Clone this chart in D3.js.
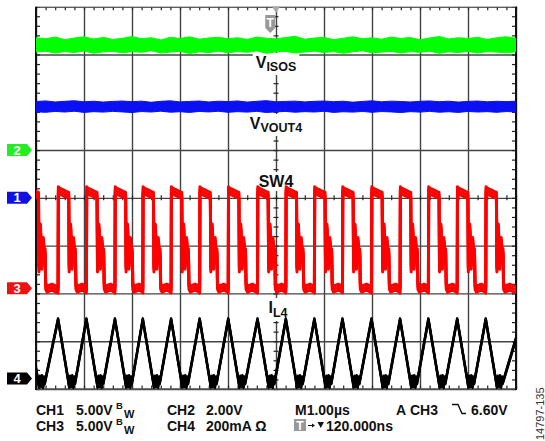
<!DOCTYPE html>
<html><head><meta charset="utf-8">
<script src="https://cdn.jsdelivr.net/npm/d3@7"></script>
<style>
html,body{margin:0;padding:0;background:#fff;}
svg{display:block;}
text{font-family:"Liberation Sans",Arial,Helvetica,sans-serif;}
</style></head><body>
<svg id="c" width="545" height="441"></svg>
<script>
// ---------------- data ----------------
const timeDivs = [0,1,2,3,4,5,6,7,8,9,10];          // µs, M1.00µs per div
const vertDivs = [-4,-3,-2,-1,0,1,2,3,4];            // vertical divisions
const channelNames = ["CH1","CH2","CH3","CH4"];
const channelOffsetDiv = [0, 1, -1.89, -3.78];       // ground marker position (div)
const channelPerDiv = [5, 2, 5, 200];                // V/div, V/div, V/div, mA/div

const envTimes = [0,0.2,0.4,0.6,0.8,1.0,1.2,1.4,1.6,1.8,2.0,2.2,2.4,2.6,2.8,3.0,3.2,3.4,3.6,3.8,
  4.0,4.2,4.4,4.6,4.8,5.0,5.2,5.4,5.6,5.8,6.0,6.2,6.4,6.6,6.8,7.0,7.2,7.4,7.6,7.8,
  8.0,8.2,8.4,8.6,8.8,9.0,9.2,9.4,9.6,9.8,10.0];
// CH2 V_ISOS noise envelope (V)
const visosTop = [4.70,4.66,4.73,4.62,4.69,4.74,4.65,4.71,4.63,4.68,
  4.75,4.66,4.70,4.61,4.72,4.67,4.74,4.64,4.69,4.72,
  4.66,4.70,4.63,4.73,4.68,4.65,4.71,4.76,4.64,4.69,
  4.72,4.62,4.68,4.74,4.66,4.70,4.64,4.73,4.67,4.71,
  4.62,4.69,4.75,4.65,4.70,4.67,4.72,4.63,4.70,4.74,4.68];
const visosBottom = [4.10,4.14,4.06,4.12,4.08,4.15,4.05,4.11,4.13,4.07,
  4.12,4.09,4.16,4.06,4.10,4.13,4.04,4.11,4.08,4.14,
  4.07,4.12,4.09,4.15,4.05,4.11,4.13,4.06,4.10,4.14,
  4.08,4.12,4.05,4.11,4.16,4.07,4.10,4.13,4.06,4.12,
  4.09,4.14,4.05,4.11,4.08,4.13,4.06,4.12,4.10,4.07,4.11];
// CH1 V_VOUT4 noise envelope (V)
const vout4Top = [10.08,10.14,10.03,10.10,10.16,10.05,10.11,10.02,10.09,10.13,
  10.06,10.12,10.00,10.10,10.15,10.04,10.09,10.13,10.03,10.11,
  10.07,10.14,10.02,10.10,10.17,10.05,10.09,10.12,10.04,10.10,
  10.13,10.06,10.11,10.01,10.09,10.15,10.05,10.12,10.08,10.03,
  10.10,10.14,10.06,10.11,10.02,10.09,10.13,10.05,10.10,10.07,10.11];
const vout4Bottom = [9.00,8.95,9.04,8.98,9.06,8.94,9.02,8.97,9.05,8.99,
  8.93,9.03,8.98,9.07,8.96,9.01,8.94,9.04,8.99,9.06,
  8.95,9.02,8.97,9.05,8.93,9.00,9.04,8.96,9.02,8.98,
  9.06,8.94,9.01,8.97,9.04,8.95,9.03,8.99,8.93,9.02,
  8.97,9.05,8.96,9.01,8.94,9.04,8.98,9.02,8.95,9.03,8.99];
// CH3 SW4: rising-edge times (µs) and one switching cycle (dt µs, V)
const sw4Edges = [-0.17,0.46,1.05,1.645,2.225,2.815,3.41,4.005,4.615,5.205,5.80,6.385,6.99,7.585,8.175,8.775,9.37,10.12];
const sw4Cycle = [[0,-0.2],[0.006,10.3],[0.03,10.15],[0.10,10.0],[0.20,9.75],[0.222,9.7],[0.232,2.0],[0.262,6.4],[0.292,2.3],[0.322,5.0],[0.35,3.2],[0.36,3.8],[0.372,0.2],[0.40,-0.1],[0.50,0.1],[0.585,-0.1]];
// CH4 I_L4: one cycle relative to the SW4 rising edge (dt µs, mA)
const il4Cycle = [[0,248],[0.215,-12],[0.232,-35],[0.252,8],[0.272,-32],[0.295,10],[0.318,-36],[0.338,5],[0.352,-20]];

const footer1 = [["CH1",36],["5.00V",76],["CH2",167],["2.00V",206],["M1.00µs",295],["A",396],["CH3",410],["6.60V",471]];
const footer2 = [["CH3",36],["5.00V",76],["CH4",167],["200mA Ω",206],["120.000ns",326]];
const figureId = "14797-135";

// ---------------- drawing ----------------
const X0=36, X1=516, Y0=6.7, Y1=389;
const svg = d3.select("#c");
const x = d3.scaleLinear().domain([0,10]).range([X0,X1]);
const yd = d3.scaleLinear().domain([-4,4]).range([Y1,Y0]);
const ych = i => v => yd(channelOffsetDiv[i] + v/channelPerDiv[i]);
const minorX = d3.range(0,10.0001,0.2);
const minorY = d3.range(-4,4.0001,0.2);

function clean(g){ g.select(".domain").remove(); }

// grid lines
svg.append("g").attr("transform",`translate(0,${Y1})`)
  .call(d3.axisBottom(x).tickValues(timeDivs).tickSize(-(Y1-Y0)).tickFormat(""))
  .call(clean).selectAll("line").attr("stroke","#444").attr("stroke-width",1.4);
svg.append("g").attr("transform",`translate(${X0},0)`)
  .call(d3.axisLeft(yd).tickValues(vertDivs).tickSize(-(X1-X0)).tickFormat(""))
  .call(clean).selectAll("line").attr("stroke","#444").attr("stroke-width",1.4);

// minor ticks on borders
function minor(axis, tr, size){
  svg.append("g").attr("transform",tr)
    .call(axis.tickSize(size).tickFormat(""))
    .call(clean).selectAll("line").attr("stroke","#222").attr("stroke-width",1.2);
}
minor(d3.axisTop(x).tickValues(minorX), `translate(0,${Y0})`, -3.5);
minor(d3.axisBottom(x).tickValues(minorX), `translate(0,${Y1})`, -3.5);
minor(d3.axisLeft(yd).tickValues(minorY), `translate(${X0},0)`, -4);
minor(d3.axisRight(yd).tickValues(minorY), `translate(${X1},0)`, -4);
// centre cross ticks
minor(d3.axisBottom(x).tickValues(minorX), `translate(0,${yd(0)})`, 2.5);
minor(d3.axisTop(x).tickValues(minorX), `translate(0,${yd(0)})`, 2.5);
minor(d3.axisLeft(yd).tickValues(minorY), `translate(${x(5)},0)`, 2.5);
minor(d3.axisRight(yd).tickValues(minorY), `translate(${x(5)},0)`, 2.5);

// borders
svg.append("line").attr("x1",X0).attr("x2",X1).attr("y1",Y0).attr("y2",Y0).attr("stroke","#ccc").attr("stroke-width",1);
svg.append("line").attr("x1",X0).attr("x2",X1).attr("y1",Y1).attr("y2",Y1).attr("stroke","#555").attr("stroke-width",1.6);
svg.append("line").attr("x1",X0).attr("x2",X0).attr("y1",Y0).attr("y2",Y1+1).attr("stroke","#111").attr("stroke-width",2);
svg.append("line").attr("x1",X1).attr("x2",X1).attr("y1",Y0).attr("y2",Y1+1).attr("stroke","#111").attr("stroke-width",2);

// labels with white boxes
const labelG = svg.append("g");
function label(cx, by, main, sub, subDy, mainSize, subSize){
  const t = labelG.append("text").attr("x",cx).attr("y",by).attr("text-anchor","middle")
    .attr("font-weight","bold").attr("fill","#111");
  t.append("tspan").attr("font-size",mainSize).text(main);
  if (sub) t.append("tspan").attr("font-size",subSize).attr("dy",subDy).text(sub);
  const b = t.node().getBBox();
  labelG.insert("rect","text").attr("x",b.x-3).attr("y",b.y-1).attr("width",b.width+6).attr("height",b.height+2).attr("fill","#fff");
}
label(276, 68, "V", "ISOS", 3, 16, 12.5);
label(276, 129, "V", "VOUT4", 3, 16, 12.5);
label(276, 187, "SW4", null, 0, 16, 12.5);
label(278, 313, "I", "L4", 4, 16, 12.5);

// traces
svg.append("defs").append("clipPath").attr("id","plot").append("rect")
  .attr("x",X0).attr("y",0).attr("width",X1-X0).attr("height",Y1+2);
const tr = svg.append("g").attr("clip-path","url(#plot)");

function band(top, bot, ch, color){
  const y = ych(ch);
  const area = d3.area().x((d,i)=>x(envTimes[i])).y0((d,i)=>y(bot[i])).y1((d,i)=>y(top[i]));
  tr.append("path").datum(top).attr("d",area).attr("fill",color).attr("stroke",color).attr("stroke-width",1);
}
band(visosTop, visosBottom, 1, "#00ff00");
band(vout4Top, vout4Bottom, 0, "#0a10f2");

function periodic(cycle){
  const pts = [];
  sw4Edges.forEach(e => cycle.forEach(([dt,v]) => pts.push([e+dt, v])));
  return pts;
}
const swPts = periodic(sw4Cycle);
const ySW = ych(2);
const swLine = d3.line().x(d=>x(d[0])).y(d=>ySW(d[1]));
[-3,0,3].forEach(dy => tr.append("path").datum(swPts).attr("d",swLine)
  .attr("transform",`translate(0,${dy})`).attr("fill","none").attr("stroke","#ff0000")
  .attr("stroke-width",3).attr("stroke-linejoin","round"));

const ilPts = periodic(il4Cycle);
const yIL = ych(3);
const ilLine = d3.line().x(d=>x(d[0])).y(d=>yIL(d[1]));
[-0.9,0,0.9].forEach(dy => tr.append("path").datum(ilPts).attr("d",ilLine)
  .attr("transform",`translate(0,${dy})`).attr("fill","none").attr("stroke","#000")
  .attr("stroke-width",2.4).attr("stroke-linejoin","round"));

// channel ground markers
const markerColors = ["#1010e6","#22ee22","#ee1111","#000000"];
channelNames.forEach((n,i)=>{
  const cy = yd(channelOffsetDiv[i]);
  svg.append("path").attr("d",`M7,${cy-6}H27L32,${cy}L27,${cy+6}H7Z`).attr("fill",markerColors[i]);
  svg.append("text").attr("x",17).attr("y",cy+4.5).attr("text-anchor","middle")
    .attr("font-size",13).attr("font-weight","bold").attr("fill","#fff").text(n.slice(2));
});

// trigger markers
const tx = x(5) - 0.12*48; // 120 ns left of centre
svg.append("path").attr("d",`M${x(5)-3.8},${Y0}H${x(5)+3.8}L${x(5)},${Y0+6.6}Z`).attr("fill","#aaa");
svg.append("path").attr("d",`M${tx-5},15H${tx+5}V28L${tx},33L${tx-5},28Z`).attr("fill","#999");
svg.append("text").attr("x",tx).attr("y",27).attr("text-anchor","middle").attr("font-size",12)
  .attr("font-weight","bold").attr("fill","#fff").text("T");

// footer
function ftxt(s, xx, yy, size){
  svg.append("text").attr("x",xx).attr("y",yy).attr("font-size",size||14).attr("font-weight","bold").attr("fill","#111").text(s);
}
footer1.forEach(([s,xx])=>ftxt(s,xx,415));
footer2.forEach(([s,xx])=>ftxt(s,xx,431));
[[409,418],[425,434]].forEach(([bY,wY])=>{ ftxt("B",116,bY,9.5); ftxt("W",124,wY,11); });
svg.append("path").attr("d","M452,404.5H458L462,413.5H466").attr("fill","none").attr("stroke","#111").attr("stroke-width",1.4);
svg.append("rect").attr("x",294).attr("y",419).attr("width",12).attr("height",12).attr("fill","#999");
svg.append("text").attr("x",300).attr("y",429.5).attr("text-anchor","middle").attr("font-size",12).attr("font-weight","bold").attr("fill","#fff").text("T");
svg.append("path").attr("d","M308,425.5H313").attr("stroke","#111").attr("stroke-width",1);
svg.append("path").attr("d","M312,423.5L315,425.5L312,427.5Z").attr("fill","#111");
svg.append("path").attr("d","M317.5,422H324L320.75,428Z").attr("fill","#111");
svg.append("text").attr("transform","translate(544,440) rotate(-90)").attr("font-size",11)
  .attr("fill","#333").text(figureId);
</script>
</body></html>
